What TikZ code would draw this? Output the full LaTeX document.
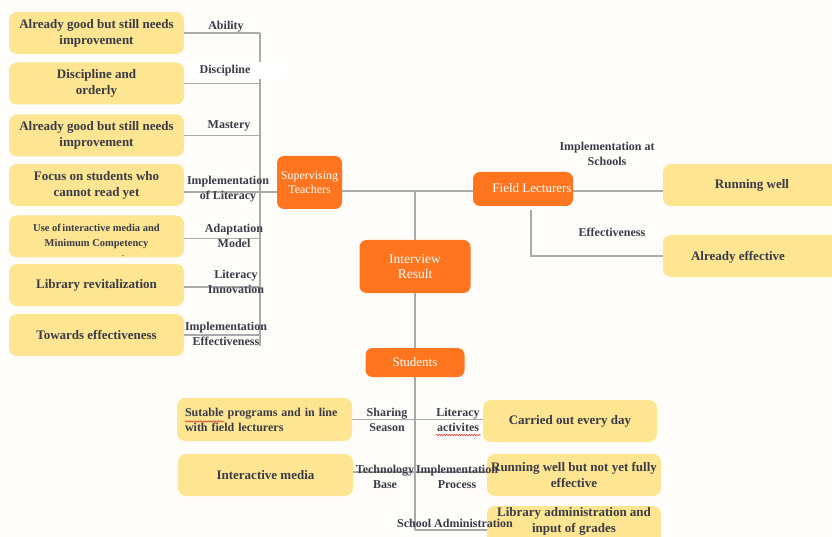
\documentclass[tikz,border=0pt]{standalone}
\usepackage{fontspec}
\setmainfont{Liberation Serif}
\usetikzlibrary{decorations.pathmorphing}
\definecolor{paper}{RGB}{254,253,250}
\definecolor{notefill}{RGB}{253,229,145}
\definecolor{hubfill}{RGB}{255,117,31}
\definecolor{ink}{RGB}{58,58,72}
\definecolor{wirec}{RGB}{170,170,170}
\definecolor{typo}{RGB}{225,40,40}

\begin{document}
\begin{tikzpicture}[x=1pt,y=-1pt,
  note/.style={fill=notefill, rounded corners=8pt, text=ink,
    font=\bfseries\fontsize{13}{16}\selectfont, align=center, inner sep=0pt,
    minimum width=175pt, minimum height=42pt},
  notetext/.style={text=ink, font=\bfseries\fontsize{13}{16}\selectfont, align=center, inner sep=0pt},
  hub/.style={fill=hubfill, rounded corners=7pt, text=white,
    font=\fontsize{13}{15}\selectfont, align=center, inner sep=0pt},
  lbl/.style={text=ink, font=\bfseries\fontsize{12}{15}\selectfont, align=center, inner sep=0pt},
  wire/.style={draw=wirec, line width=1.1pt},
  squiggle/.style={draw=typo, line width=0.5pt, decorate,
    decoration={snake, segment length=2.5pt, amplitude=0.7pt}}]

% canvas
\useasboundingbox[fill=paper] (0,0) rectangle (832,537);

% ---------- nodes ----------
% supervising teachers branch (left column)
\node[note] (a1) at (96.5,33)   {Already good but still needs\\improvement};
\node[note] (a2) at (96.5,83.5) {Discipline and\\orderly};
\node[note] (a3) at (96.5,135.5){Already good but still needs\\improvement};
\node[note] (a4) at (96.5,185)  {Focus on students who\\cannot read yet};
\node[note, font=\bfseries\fontsize{10.5}{15}\selectfont] (a5) at (96.5,236.5)
  {Use of\hspace{1.5pt}interactive media and\\Minimum Competency};
\node[note] (a6) at (96.5,285)  {Library revitalization};
\node[note] (a7) at (96.5,335)  {Towards effectiveness};

% hubs
\node[hub, minimum width=65pt, minimum height=53pt, font=\fontsize{12}{14}\selectfont]
  (st) at (309.5,182.5) {Supervising\\Teachers};
\node[hub, minimum width=100pt, minimum height=34pt] (fl) at (523,189) {};
\node[text=white, font=\fontsize{13}{15}\selectfont, inner sep=0pt] (flt) at (532,188) {Field Lecturers};
\node[hub, minimum width=111pt, minimum height=53pt, font=\fontsize{13.5}{15}\selectfont]
  (ir) at (415,266.5) {Interview\\Result};
\node[hub, minimum width=99pt, minimum height=29pt] (sd) at (415,362.5) {Students};

% field lecturers branch (right)
\node[note, minimum width=178pt] (rw) at (752,185) {Running well};
\node[note, minimum width=178pt] (aeb) at (752,256) {};
\node[notetext] (ae) at (738,257) {Already effective};

% students branch (bottom)
\node[note, align=left, text width=159pt, inner xsep=8pt, minimum height=43pt,
  font=\bfseries\fontsize{12}{15}\selectfont]
  (s1) at (264.5,419.5) {Sutable programs and in line\\with field lecturers};
\node[note] (s2) at (265.5,475) {Interactive media};
\node[note, minimum width=174pt] (s3) at (570,421) {Carried out every day};
\node[note, minimum width=174pt] (s4) at (574,475) {Running well but not yet fully\\effective};
\node[note, minimum width=174pt] (s5) at (574,527) {};
\node[notetext] (s5t) at (574,521) {Library administration and\\input of grades};

% ---------- connectors ----------
\coordinate (tTop) at (260,33);
\coordinate (tBot) at (260,346);
\coordinate (stIn) at (277,192);
\coordinate (flDrop) at (531,210);
\coordinate (sdEnd) at (415,530);

\draw[wire] (tTop) -- (tBot);
\draw[wire] (a1.east) -- (a1.east -| tTop);
\draw[wire] (a2.east) -- (a2.east -| tTop);
\draw[wire] (a3.east) -- (a3.east -| tTop);
\draw[wire] (stIn -| a4.east) -- (stIn);
\draw[wire] ([yshift=-2pt]a5.east) -- ([yshift=-2pt]a5.east -| tTop);
\draw[wire] ([yshift=-2pt]a6.east) -- ([yshift=-2pt]a6.east -| tTop);
\draw[wire] (a7.east) -- (a7.east -| tTop);

\draw[wire] ([yshift=-2pt]st.east |- fl.west) -- ([yshift=-2pt]fl.west);
\draw[wire] (ir.north) -- ([yshift=-2pt]ir.north |- fl.west);
\draw[wire] ([yshift=-2pt]fl.east) -- ([yshift=-2pt]fl.east -| rw.west);
\draw[wire] (flDrop) |- (aeb.west);

\draw[wire] (ir.south) -- (sd.north);
\draw[wire] (sd.south) -- (sdEnd);
\draw[wire] (sdEnd) -- (sdEnd -| s5.west);
\draw[wire] (s1.east) -- (s1.east -| s3.west);
\draw[wire] ([yshift=3pt]s2.east) -- ([yshift=3pt]s2.east -| s4.west);

% ---------- branch labels ----------
\node[lbl] (lAbil) at (226,27) {Ability};
\node[fill=white, minimum width=102pt, minimum height=17pt, inner sep=0pt] (discbg) at (236,70.5) {};
\node[lbl] (lDisc) at (225,71) {Discipline};
\node[lbl] (lMast) at (229,126) {Mastery};
\node[lbl] (lImpL) at (228,189.5) {Implementation\\of Literacy};
\node[lbl] (lAdap) at (234,236) {Adaptation\\Model};
\node[lbl] (lInno) at (236,282) {Literacy\\Innovation};
\node[lbl] (lEff) at (226,334) {Implementation\\Effectiveness};

\node[lbl] (lSch) at (607,153.5) {Implementation at\\Schools};
\node[lbl] (lFEff) at (612,232) {Effectiveness};

\node[lbl] (lShare) at (387,419.5) {Sharing\\Season};
\node[lbl] (lAct) at (458,419.5) {Literacy\\activites};
\node[lbl] (lTech) at (385,477) {Technology\\Base};
\node[lbl] (lProc) at (457,477) {Implementation\\Process};
\node[lbl] (lAdm) at (455,523) {School Administration};

% spell-check marks
\draw[squiggle] (185,421.5) -- (224,421.5);
\draw[squiggle] (436,435) -- (481,435);
% stray mark in the adaptation note
\fill[ink] (123,255.5) circle (0.6pt);

\end{tikzpicture}
\end{document}
